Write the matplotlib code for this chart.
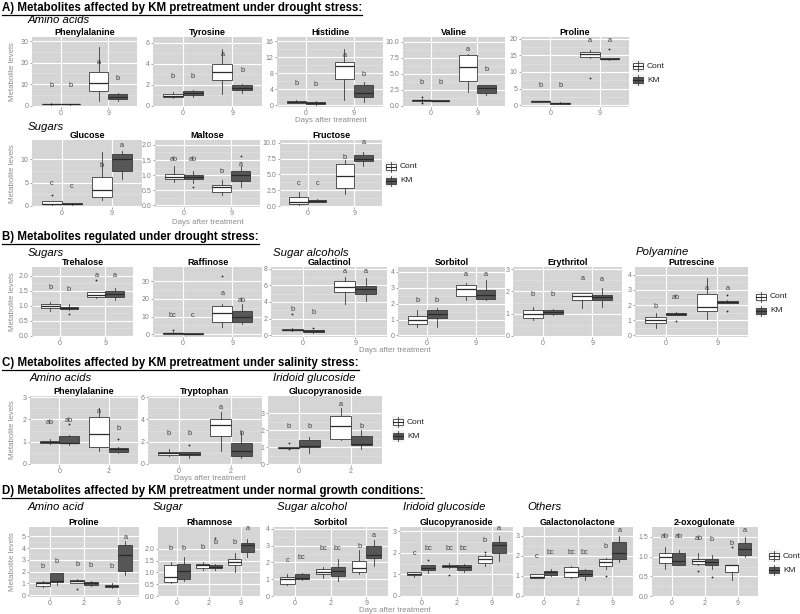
import matplotlib
matplotlib.use("Agg")
import matplotlib.pyplot as plt
from matplotlib.patches import Rectangle
from matplotlib.lines import Line2D


plt.rcParams["font.family"] = ["Liberation Sans", "DejaVu Sans"]

W, H = 800, 614

PANEL_BG = "#D5D5D5"
FILLS = ["white", "#565656"]
EDGE = "#3A3A3A"
TICK_COL = "#7F7F7F"
LETTER_COL = "#3C3C3C"

groups = ["Cont", "KM"]
days_drought = ["0", "9"]
days_salt = ["0", "2"]
days_normal = ["0", "2", "9"]

# every box is (lower whisker, q1, median, q3, upper whisker), Cont then KM for each day
# outliers are (box index, value); letters are (text, height)

# A) drought, KM pretreatment
a_phe = [(0.4, 0.55, 0.75, 0.9, 1.0), (0.4, 0.5, 0.65, 0.8, 0.9), (1.9, 7.0, 10.7, 15.5, 27.5), (2.2, 3.1, 4.2, 5.2, 6.0)]
a_phe_out = [(2, 20.3)]
a_phe_let = [("b", 9.5), ("b", 9.5), ("a", 20), ("b", 12.5)]

a_tyr = [(0.7, 0.85, 0.92, 1.1, 1.3), (0.8, 1.05, 1.2, 1.4, 1.5), (1.1, 2.4, 3.25, 4.0, 5.4), (1.2, 1.45, 1.65, 1.95, 2.1)]
a_tyr_out = []
a_tyr_let = [("b", 2.75), ("b", 2.8), ("a", 4.9), ("b", 3.35)]

a_his = [(0.5, 0.6, 0.9, 1.2, 1.4), (0.2, 0.3, 0.5, 0.8, 1.0), (1.3, 6.5, 9.8, 10.7, 14.0), (0.8, 2.0, 3.0, 5.1, 5.8)]
a_his_out = []
a_his_let = [("b", 5.4), ("b", 5.3), ("a", 12.5), ("b", 7.8)]

a_val = [(0.6, 0.8, 0.9, 0.95, 1.0), (0.7, 0.75, 0.8, 0.85, 0.9), (2.1, 3.8, 6.1, 8.0, 8.1), (1.65, 2.05, 2.7, 3.3, 3.3)]
a_val_out = [(0, 1.35), (0, 0.45)]
a_val_let = [("b", 3.7), ("b", 3.6), ("a", 8.8), ("b", 5.7)]

a_pro = [(0.8, 1.0, 1.1, 1.2, 1.3), (0.3, 0.4, 0.5, 0.6, 0.8), (14.3, 14.6, 15.4, 16.1, 16.6), (13.7, 13.85, 14.0, 14.1, 14.3)]
a_pro_out = [(2, 8.3), (3, 17.1)]
a_pro_let = [("b", 6.0), ("b", 6.0), ("a", 19.6), ("a", 19.6)]

a_glc = [(0.2, 0.3, 0.45, 0.9, 1.0), (0.2, 0.3, 0.4, 0.5, 0.6), (1.3, 1.9, 3.4, 6.3, 11.5), (5.7, 7.5, 10.0, 11.1, 11.8)]
a_glc_out = [(0, 2.4)]
a_glc_let = [("c", 4.7), ("c", 4.1), ("b", 8.7), ("a", 13.0)]

a_mal = [(0.78, 0.86, 0.95, 1.05, 1.3), (0.75, 0.86, 0.93, 1.0, 1.15), (0.35, 0.45, 0.6, 0.66, 0.85), (0.6, 0.81, 1.0, 1.13, 1.3)]
a_mal_out = [(1, 0.6), (3, 1.63)]
a_mal_let = [("ab", 1.52), ("ab", 1.52), ("b", 1.12), ("a", 1.35)]

a_fru = [(0.2, 0.4, 0.6, 1.5, 2.2), (0.6, 0.7, 0.85, 1.0, 1.1), (1.9, 2.9, 4.7, 6.6, 7.3), (6.3, 7.2, 7.5, 8.0, 8.5)]
a_fru_out = []
a_fru_let = [("c", 3.6), ("c", 3.6), ("b", 7.7), ("a", 10.0)]

# B) drought regulated
b_tre = [(0.82, 0.93, 1.0, 1.07, 1.12), (0.85, 0.88, 0.93, 0.97, 1.05), (1.25, 1.3, 1.37, 1.45, 1.47), (1.2, 1.28, 1.38, 1.5, 1.6)]
b_tre_out = [(1, 0.73), (2, 1.88)]
b_tre_let = [("b", 1.6), ("b", 1.55), ("a", 2.0), ("a", 2.0)]

b_raf = [(0.2, 0.4, 0.7, 1.0, 1.3), (0.2, 0.3, 0.4, 0.6, 0.9), (4.0, 7.0, 12.0, 16.0, 17.0), (6.0, 7.0, 10.0, 13.0, 17.0)]
b_raf_out = [(0, 2.5), (2, 33.0)]
b_raf_let = [("bc", 10.5), ("c", 10.5), ("a", 23.0), ("ab", 19.0)]

b_gal = [(0.55, 0.6, 0.7, 0.8, 0.85), (0.3, 0.4, 0.5, 0.6, 0.7), (3.8, 5.2, 5.75, 6.5, 7.0), (4.1, 4.9, 5.6, 5.95, 6.9)]
b_gal_out = [(0, 2.6), (1, 0.9)]
b_gal_let = [("b", 3.1), ("b", 2.8), ("a", 7.7), ("a", 7.7)]

b_sor = [(0.5, 0.7, 0.95, 1.2, 1.6), (0.5, 1.1, 1.35, 1.6, 1.75), (2.2, 2.5, 2.9, 3.15, 3.3), (2.2, 2.3, 2.55, 2.85, 3.5)]
b_sor_out = []
b_sor_let = [("b", 2.2), ("b", 2.2), ("a", 3.85), ("a", 3.8)]

b_ery = [(0.7, 0.8, 0.97, 1.18, 1.3), (0.95, 1.0, 1.08, 1.15, 1.2), (1.25, 1.6, 1.8, 1.95, 1.95), (1.3, 1.6, 1.75, 1.85, 2.15)]
b_ery_out = []
b_ery_let = [("b", 1.85), ("b", 1.85), ("a", 2.6), ("a", 2.55)]

b_put = [(0.5, 0.8, 1.0, 1.2, 1.5), (1.35, 1.35, 1.42, 1.5, 1.55), (1.05, 1.6, 1.85, 2.75, 3.8), (2.15, 2.15, 2.2, 2.28, 2.3)]
b_put_out = [(1, 0.95), (3, 2.65), (3, 1.6)]
b_put_let = [("b", 1.9), ("ab", 2.5), ("a", 3.1), ("a", 3.1)]

# C) salinity, KM pretreatment
c_phe = [(0.9, 0.95, 1.0, 1.05, 1.1), (0.85, 0.92, 0.95, 1.25, 1.32), (0.6, 0.77, 1.36, 2.12, 2.5), (0.48, 0.53, 0.65, 0.72, 0.75)]
c_phe_out = [(1, 1.8), (3, 1.1)]
c_phe_let = [("ab", 1.86), ("ab", 1.95), ("a", 2.37), ("b", 1.57)]

c_trp = [(0.7, 0.8, 0.95, 1.1, 1.3), (0.55, 0.8, 0.9, 1.05, 1.1), (1.2, 2.5, 3.5, 4.06, 4.7), (0.55, 0.7, 1.17, 1.86, 3.0)]
c_trp_out = [(1, 1.7)]
c_trp_let = [("b", 2.75), ("b", 2.75), ("a", 5.1), ("b", 2.75)]

c_glp = [(0.96, 0.96, 0.97, 1.0, 1.0), (0.65, 0.98, 1.05, 1.4, 1.6), (1.4, 1.5, 2.22, 2.8, 3.3), (0.9, 1.15, 1.2, 1.65, 2.0)]
c_glp_out = [(0, 1.25), (0, 0.87)]
c_glp_let = [("b", 2.2), ("b", 2.2), ("a", 3.5), ("b", 2.2)]

# D) normal growth, KM pretreatment
d_pro = [(0.7, 0.8, 1.0, 1.1, 1.2), (0.9, 1.15, 1.25, 1.85, 1.9), (1.0, 1.05, 1.2, 1.3, 1.4),
         (0.8, 0.9, 1.0, 1.1, 1.2), (0.6, 0.7, 0.8, 0.9, 1.0), (1.7, 2.05, 3.4, 4.3, 4.6)]
d_pro_out = [(2, 0.55)]
d_pro_let = [("b", 2.4), ("b", 2.9), ("b", 2.6), ("b", 2.5), ("b", 2.4), ("a", 4.9)]

d_rha = [(0.55, 0.6, 0.8, 1.3, 1.45), (0.65, 0.72, 1.05, 1.35, 1.65), (1.1, 1.17, 1.3, 1.37, 1.45),
         (1.1, 1.17, 1.22, 1.3, 1.35), (1.0, 1.33, 1.45, 1.57, 1.8), (1.65, 1.86, 2.18, 2.24, 2.4)]
d_rha_out = [(3, 2.47)]
d_rha_let = [("b", 2.0), ("b", 2.0), ("b", 2.05), ("b", 2.25), ("b", 2.27), ("a", 2.84)]

d_sor = [(0.65, 0.75, 1.0, 1.15, 1.3), (0.95, 1.0, 1.1, 1.3, 1.35), (1.1, 1.3, 1.42, 1.6, 1.75),
         (0.9, 1.2, 1.5, 1.75, 2.2), (1.3, 1.45, 1.65, 2.1, 2.75), (1.8, 2.25, 2.45, 2.95, 3.3)]
d_sor_out = []
d_sor_let = [("c", 2.1), ("bc", 2.3), ("bc", 2.8), ("bc", 2.8), ("b", 2.95), ("a", 3.6)]

d_glp = [(0.9, 0.95, 1.0, 1.1, 1.12), (1.05, 1.2, 1.3, 1.45, 1.45), (1.3, 1.35, 1.4, 1.45, 1.55),
         (1.1, 1.2, 1.35, 1.45, 1.5), (1.4, 1.55, 1.7, 1.85, 1.95), (1.6, 2.0, 2.35, 2.52, 2.8)]
d_glp_out = [(1, 1.65), (2, 0.98), (4, 2.05)]
d_glp_let = [("c", 1.95), ("bc", 2.2), ("bc", 2.2), ("bc", 2.2), ("b", 2.55), ("a", 3.15)]

d_gal = [(0.88, 0.9, 0.95, 1.1, 1.12), (1.0, 1.05, 1.2, 1.25, 1.35), (0.9, 0.95, 1.2, 1.45, 1.5),
         (0.8, 1.0, 1.1, 1.3, 1.35), (1.35, 1.5, 1.7, 1.85, 1.9), (1.7, 1.85, 2.15, 2.7, 3.0)]
d_gal_out = [(4, 1.0)]
d_gal_let = [("c", 1.95), ("bc", 2.15), ("bc", 2.15), ("bc", 2.15), ("b", 2.45), ("a", 3.25)]

d_oxo = [(0.68, 0.85, 1.0, 1.1, 1.25), (0.78, 0.8, 0.88, 1.1, 1.18), (0.8, 0.82, 0.9, 0.95, 1.1),
         (0.7, 0.8, 0.87, 0.95, 1.05), (0.42, 0.62, 0.78, 0.8, 0.8), (1.0, 1.05, 1.2, 1.35, 1.5)]
d_oxo_out = [(2, 0.63), (3, 0.48), (4, 1.25)]
d_oxo_let = [("ab", 1.5), ("ab", 1.5), ("ab", 1.45), ("b", 1.43), ("b", 1.33), ("a", 1.65)]


fig = plt.figure(figsize=(8, 6.14), dpi=100)


def px_rect(x0, y0, x1, y1):
    return [x0 / W, 1 - y1 / H, (x1 - x0) / W, (y1 - y0) / H]


def ftext(x, y, s, **kw):
    return fig.text(x / W, 1 - y / H, s, **kw)


def panel(rect, title, days, boxes, outliers, letters, ylim, yticks, fmt="{:g}"):
    ax = fig.add_axes(px_rect(*rect))
    ax.set_facecolor(PANEL_BG)
    for s in ax.spines.values():
        s.set_visible(False)

    pos = [d + 1 + off for d in range(len(days)) for off in (-0.2, 0.2)]
    stats = []
    for k, (lo, q1, med, q3, hi) in enumerate(boxes):
        stats.append(dict(whislo=lo, q1=q1, med=med, q3=q3, whishi=hi,
                          fliers=[v for i, v in outliers if i == k]))

    bp = ax.bxp(stats, positions=pos, widths=0.4, patch_artist=True, showcaps=False,
                boxprops=dict(edgecolor=EDGE, linewidth=0.6),
                whiskerprops=dict(color=EDGE, linewidth=0.6),
                medianprops=dict(color="#2A2A2A", linewidth=0.9),
                flierprops=dict(marker="o", markersize=1.3, markerfacecolor="#222222",
                                markeredgecolor="none"))
    for k, b in enumerate(bp["boxes"]):
        b.set_facecolor(FILLS[k % 2])

    for k, (txt, yv) in enumerate(letters):
        ax.text(pos[k], yv, txt, ha="center", va="center", fontsize=5.3, color=LETTER_COL)

    ax.set_xlim(0.4, len(days) + 0.6)
    ax.set_ylim(*ylim)
    ax.set_xticks(range(1, len(days) + 1))
    ax.set_xticklabels(days)
    ax.set_yticks(yticks)
    ax.set_yticklabels([fmt.format(v) for v in yticks])
    minor = [(a + b) / 2 for a, b in zip(yticks[:-1], yticks[1:])]
    ax.set_yticks(minor, minor=True)

    ax.set_axisbelow(True)
    ax.grid(True, which="major", color="white", linewidth=0.8)
    ax.grid(True, which="minor", axis="y", color="#E4E4E4", linewidth=0.4)
    ax.tick_params(which="major", length=1.5, width=0.5, color=TICK_COL,
                   labelsize=5, labelcolor=TICK_COL, pad=1)
    ax.tick_params(which="minor", length=0)
    ax.set_title(title, fontsize=6.5, fontweight="bold", pad=1.5)
    return ax


def legend(x, y_cont, gap=14):
    for k, name in enumerate(groups):
        yc = y_cont + k * gap
        fig.add_artist(Rectangle((x / W, 1 - (yc + 6) / H), 12 / W, 12 / H,
                                 facecolor="#F2F2F2", edgecolor="none",
                                 transform=fig.transFigure))
        fig.add_artist(Line2D([(x + 6) / W] * 2, [1 - (yc + 5) / H, 1 - (yc - 5) / H],
                              color=EDGE, linewidth=0.6, transform=fig.transFigure))
        fig.add_artist(Rectangle(((x + 1) / W, 1 - (yc + 3) / H), 10 / W, 6 / H,
                                 facecolor=FILLS[k], edgecolor=EDGE, linewidth=0.6,
                                 transform=fig.transFigure))
        fig.add_artist(Line2D([(x + 1) / W, (x + 11) / W], [1 - yc / H] * 2,
                              color="#2A2A2A", linewidth=0.8, transform=fig.transFigure))
        ftext(x + 15, yc, name, fontsize=6, color="#222222", va="center", ha="left")


def heading(y, s):
    return ftext(2, y, s, fontsize=8.3, fontweight="bold", va="center", ha="left")


def group_label(x, y, s):
    ftext(x, y, s, fontsize=8.2, style="italic", va="center", ha="left")


def x_title(x, y):
    ftext(x, y, "Days after treatment", fontsize=5.7, color="#8C8C8C", ha="center", va="center")


def y_title(y):
    ftext(13, y, "Metabolite levels", fontsize=5.7, color="#8C8C8C", ha="center",
          va="center", rotation=90)


t01 = [0, 10, 20, 30]

# ---- A ----
headings = [heading(8, "A) Metabolites affected by KM pretreatment under drought stress:")]
group_label(28, 20, "Amino acids")
panel((32, 37, 137, 107), "Phenylalanine", days_drought, a_phe, a_phe_out, a_phe_let, (-0.7, 32), t01)
panel((153, 37, 262, 107), "Tyrosine", days_drought, a_tyr, a_tyr_out, a_tyr_let, (-0.14, 6.56), [0, 2, 4, 6])
panel((277, 37, 383, 107), "Histidine", days_drought, a_his, a_his_out, a_his_let, (-0.4, 17), [0, 4, 8, 12, 16])
panel((403, 37, 505, 107), "Valine", days_drought, a_val, a_val_out, a_val_let, (-0.2, 10.75),
      [0, 2.5, 5, 7.5, 10], "{:.1f}")
panel((521, 37, 629, 107), "Proline", days_drought, a_pro, a_pro_out, a_pro_let, (-0.6, 20.6), [0, 5, 10, 15, 20])
legend(632, 66)
x_title(331, 121)
y_title(72)

group_label(28, 127, "Sugars")
panel((32, 140, 142, 207), "Glucose", days_drought, a_glc, a_glc_out, a_glc_let, (-0.3, 14.2), [0, 5, 10])
panel((155, 140, 260, 207), "Maltose", days_drought, a_mal, a_mal_out, a_mal_let, (-0.05, 2.16),
      [0, 0.5, 1, 1.5, 2], "{:.1f}")
panel((280, 140, 382, 207), "Fructose", days_drought, a_fru, a_fru_out, a_fru_let, (-0.15, 10.45),
      [0, 2.5, 5, 7.5, 10], "{:.1f}")
legend(385, 167)
x_title(208, 223)
y_title(174)

# ---- B ----
headings.append(heading(237, "B) Metabolites regulated under drought stress:"))
group_label(28, 253, "Sugars")
group_label(273, 253, "Sugar alcohols")
group_label(636, 252, "Polyamine")
panel((32, 267, 133, 337), "Trehalose", days_drought, b_tre, b_tre_out, b_tre_let, (-0.05, 2.3),
      [0, 0.5, 1, 1.5, 2], "{:.1f}")
panel((153, 267, 262, 337), "Raffinose", days_drought, b_raf, b_raf_out, b_raf_let, (-1.5, 38), t01)
panel((271, 267, 387, 337), "Galactinol", days_drought, b_gal, b_gal_out, b_gal_let, (-0.2, 8.2), [0, 2, 4, 6, 8])
panel((398, 267, 505, 337), "Sorbitol", days_drought, b_sor, b_sor_out, b_sor_let, (-0.1, 4.3), [0, 1, 2, 3, 4])
panel((513, 267, 622, 337), "Erythritol", days_drought, b_ery, b_ery_out, b_ery_let, (-0.05, 3.1), [0, 1, 2, 3])
panel((635, 267, 748, 337), "Putrescine", days_drought, b_put, b_put_out, b_put_let, (-0.1, 4.5), [0, 1, 2, 3, 4])
legend(755, 297)
x_title(395, 351)
y_title(302)

# ---- C ----
headings.append(heading(363, "C) Metabolites affected by KM pretreatment under salinity stress:"))
group_label(30, 378, "Amino acids")
group_label(273, 378, "Iridoid glucoside")
panel((30, 396, 138, 465), "Phenylalanine", days_salt, c_phe, c_phe_out, c_phe_let, (-0.05, 3.05), [0, 1, 2, 3])
panel((148, 396, 262, 465), "Tryptophan", days_salt, c_trp, c_trp_out, c_trp_let, (-0.1, 6.1), [0, 2, 4, 6])
panel((268, 396, 382, 465), "Glucopyranoside", days_salt, c_glp, c_glp_out, c_glp_let, (-0.05, 4.0), [0, 1, 2, 3])
legend(392, 422)
x_title(210, 479)
y_title(430)

# ---- D ----
headings.append(heading(491, "D) Metabolites affected by KM pretreatment under normal growth conditions:"))
group_label(28, 507, "Amino acid")
group_label(153, 507, "Sugar")
group_label(277, 507, "Sugar alcohol")
group_label(403, 507, "Iridoid glucoside")
group_label(527, 507, "Others")
panel((29, 527, 139, 597), "Proline", days_normal, d_pro, d_pro_out, d_pro_let, (-0.15, 5.8), [0, 1, 2, 3, 4, 5])
panel((158, 527, 260, 597), "Rhamnose", days_normal, d_rha, d_rha_out, d_rha_let, (-0.04, 2.92),
      [0, 0.5, 1, 1.5, 2], "{:.1f}")
panel((273, 527, 388, 597), "Sorbitol", days_normal, d_sor, d_sor_out, d_sor_let, (-0.05, 4.1), [0, 1, 2, 3, 4])
panel((400, 527, 513, 597), "Glucopyranoside", days_normal, d_glp, d_glp_out, d_glp_let, (-0.05, 3.2), [0, 1, 2, 3])
panel((523, 527, 633, 597), "Galactonolactone", days_normal, d_gal, d_gal_out, d_gal_let, (-0.05, 3.45), [0, 1, 2, 3])
panel((652, 527, 758, 597), "2-oxogulonate", days_normal, d_oxo, d_oxo_out, d_oxo_let, (-0.02, 1.75),
      [0, 0.5, 1, 1.5], "{:.1f}")
legend(768, 556)
x_title(395, 610)
y_title(562)

# underline the section headings
fig.canvas.draw()
for t in headings:
    bb = t.get_window_extent()
    fig.add_artist(Line2D([bb.x0 / W, bb.x1 / W], [(bb.y0 - 0.5) / H] * 2,
                          color="black", linewidth=0.9, transform=fig.transFigure))

fig.savefig("out.png", dpi=100)
